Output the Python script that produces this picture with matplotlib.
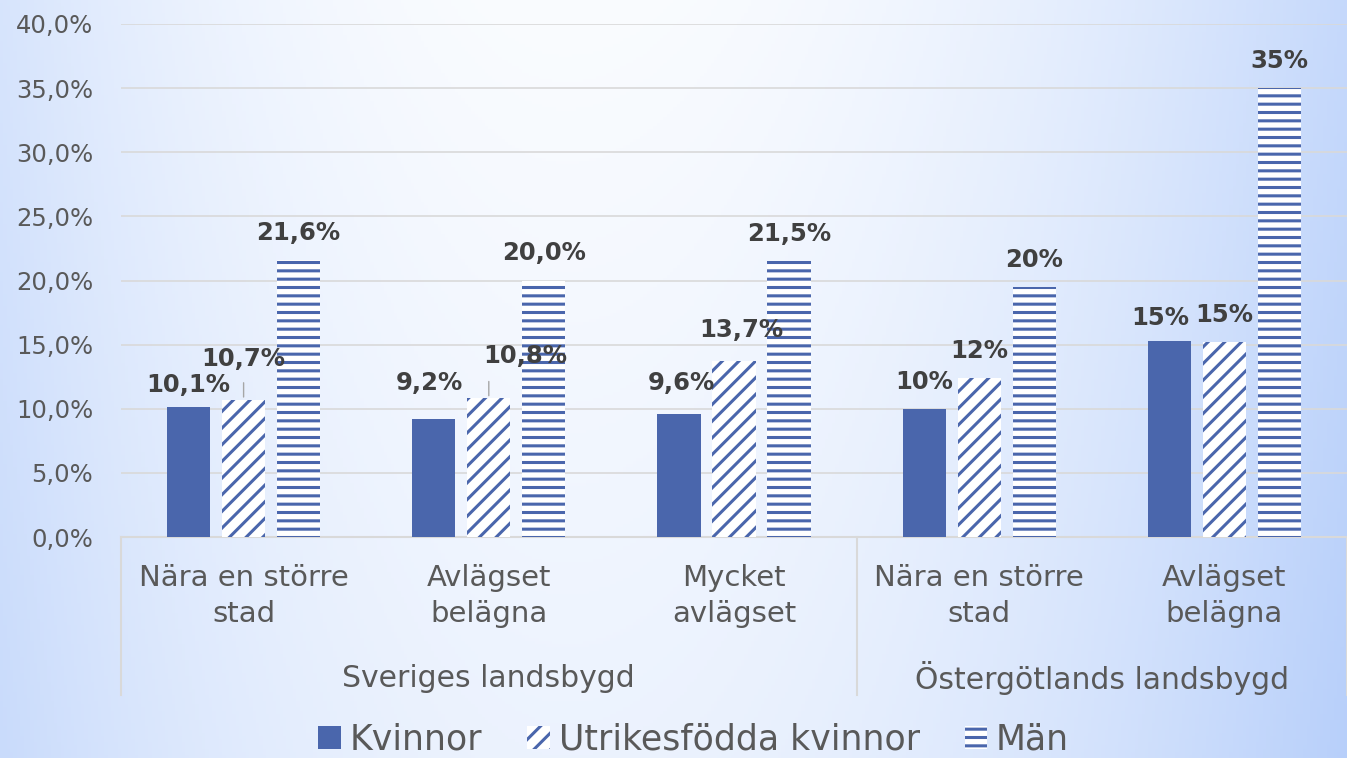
import numpy as np
from matplotlib import pyplot as plt

plt.rcParams['font.family'] = ['DejaVu Sans']
plt.rcParams['hatch.linewidth'] = 2.2

# Data
CATEGORIES = ['Nära en större\nstad', 'Avlägset\nbelägna', 'Mycket\navlägset',
              'Nära en större\nstad', 'Avlägset\nbelägna']
GROUPS = ['Sveriges landsbygd', 'Östergötlands landsbygd']
GROUP_SPANS = [(0, 2), (3, 4)]
SERIES = ['Kvinnor', 'Utrikesfödda kvinnor', 'Män']
KVINNOR = [10.1, 9.2, 9.6, 10.0, 15.3]
UTRIKES = [10.7, 10.8, 13.7, 12.4, 15.2]
MAN = [21.6, 20.0, 21.5, 19.5, 35.0]
# Östergötland values are labelled without decimals
LABEL_DECIMALS = [1, 1, 1, 0, 0]
Y_TICKS = [0, 5, 10, 15, 20, 25, 30, 35, 40]

BLUE = '#4a66ac'
TEXT = '#595959'
LABEL = '#404040'
GRID = '#d9d9d9'

# label nudges in pixels (series index, category index) -> (dx, dy)
NUDGES = {(0, 0): (0, -5), (1, 0): (0, 14), (0, 1): (-4, 9), (1, 1): (36, 15),
          (0, 2): (2, 4), (1, 2): (7, 4), (0, 4): (-9, -4)}
LEADERS = [(1, 0), (1, 1)]

fig = plt.figure(figsize=(13.47, 7.58), dpi=100)

# Background gradient
bg = fig.add_axes([0, 0, 1, 1], zorder=-10)
xx, yy = np.meshgrid(np.linspace(0, 1, 400), np.linspace(0, 1, 240))
t = np.where(xx > 0.42, 0.75 * ((xx - 0.42) / 0.58) ** 2,
             0.5 * ((0.42 - xx) / 0.42) ** 2) + 0.2 * yy
t = np.clip(t, 0, 1)[..., None]
white = np.array([250, 252, 255]) / 255
blue = np.array([180, 205, 250]) / 255
bg.imshow(white * (1 - t) + blue * t, aspect='auto', extent=(0, 1, 1, 0))
bg.axis('off')

ax = fig.add_axes([121 / 1347, 221 / 758, 1 - 121 / 1347, 513 / 758])
ax.patch.set_alpha(0)

x = np.arange(len(CATEGORIES))
width = 0.176
offset = 0.2245
styles = [dict(color=BLUE), dict(facecolor='white', edgecolor=BLUE, hatch='//', linewidth=0),
          dict(facecolor='white', edgecolor=BLUE, hatch='--', linewidth=0)]
all_bars = []
for i, (name, values) in enumerate(zip(SERIES, [KVINNOR, UTRIKES, MAN])):
    bars = ax.bar(x + (i - 1) * offset, values, width, label=name, zorder=3, **styles[i])
    all_bars.append(bars)

# Data labels
for i, bars in enumerate(all_bars):
    for j, bar in enumerate(bars):
        v = bar.get_height()
        cx = bar.get_x() + bar.get_width() / 2
        dx, dy = NUDGES.get((i, j), (0, 0))
        txt = f'{v:.{LABEL_DECIMALS[j]}f}%'.replace('.', ',')
        ax.annotate(txt, (cx, v), xytext=(dx, 27 + dy), textcoords='offset pixels',
                    ha='center', va='center', fontsize=17.5, fontweight='bold',
                    color=LABEL, zorder=5)
        if (i, j) in LEADERS:
            ax.annotate('', (cx, v), xytext=(0, 17), textcoords='offset pixels',
                        arrowprops=dict(arrowstyle='-', color='#a6a6a6', lw=1,
                                        shrinkA=0, shrinkB=2))

ax.set_xlim(-0.5, len(CATEGORIES) - 0.5)
ax.set_ylim(0, 40)
ax.set_yticks(Y_TICKS)
ax.set_yticklabels([f'{v:.1f}%'.replace('.', ',') for v in Y_TICKS])
ax.tick_params(axis='y', length=0, pad=20, labelsize=17.5, labelcolor=TEXT)
ax.set_xticks([])
ax.grid(axis='y', color=GRID, lw=1.2, zorder=0)
for side in ['left', 'right', 'top']:
    ax.spines[side].set_visible(False)
ax.spines['bottom'].set_color(GRID)
ax.spines['bottom'].set_linewidth(1.5)

# Multi-level category axis
trans = ax.get_xaxis_transform()
for j, cat in enumerate(CATEGORIES):
    ax.text(j, -0.115, cat, transform=trans, ha='center', va='center',
            fontsize=21, color=TEXT, linespacing=1.35)
for name, (a, b) in zip(GROUPS, GROUP_SPANS):
    ax.text((a + b) / 2, -0.275, name, transform=trans, ha='center', va='center',
            fontsize=21.5, color=TEXT)
for sep in [-0.5, 2.5, 4.5]:
    ax.plot([sep, sep], [0, -0.308], transform=trans, color=GRID, lw=1.5, clip_on=False)

fig.legend(loc='center', bbox_to_anchor=(0.515, 0.024), ncol=3, frameon=False,
           fontsize=25, labelcolor=TEXT, handlelength=0.65, handleheight=0.65,
           handletextpad=0.25, columnspacing=1.3, borderpad=0)

fig.savefig('out.png', dpi=100)
